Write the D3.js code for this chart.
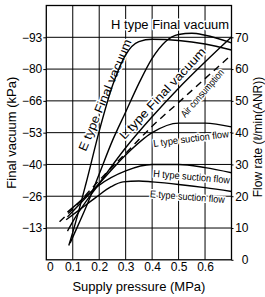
<!DOCTYPE html>
<html lang="en">
<head>
  <meta charset="UTF-8" />
  <title>Final vacuum / flow rate vs supply pressure</title>
  <style>
    body {
      margin: 0;
      background: #fff;
    }

    svg {
      display: block;
      font-family: "Liberation Sans", Arial, sans-serif;
    }

    .grid line {
      stroke: #000;
      stroke-width: 1;
    }

    .curve {
      fill: none;
      stroke: #000;
      stroke-width: 1.4px;
    }

    .tick text {
      font-size: 12px;
    }

    .note {
      paint-order: stroke;
      stroke: #fff;
      stroke-width: 3px;
      stroke-linejoin: round;
    }
  </style>
</head>
<body>
  <svg width="265" height="297"></svg>

  <script src="https://cdn.jsdelivr.net/npm/d3@7"></script>
  <script>
    // axis ticks
    const xTicks = [0, 0.1, 0.2, 0.3, 0.4, 0.5, 0.6];
    const xTickLabels = ["0", "0.1", "0.2", "0.3", "0.4", "0.5", "0.6"];
    const vacTicks = [13.33, 26.67, 40, 53.33, 66.67, 80, 93.33];
    const vacTickLabels = ["−13", "−26", "−40", "−53", "−66", "−80", "−93"];
    const flowTicks = [0, 10, 20, 30, 40, 50, 60, 70];

    // final vacuum (kPa, left axis) vs supply pressure (MPa)
    const eFinal = [[0.085, 6], [0.1, 11.5], [0.15, 32], [0.2, 54], [0.25, 73], [0.3, 86],
      [0.35, 91.5], [0.4, 92.5], [0.5, 92], [0.6, 90.5], [0.7, 88]];
    const hFinal = [[0.09, 7], [0.1, 9.5], [0.15, 22], [0.2, 36], [0.25, 50], [0.3, 62],
      [0.35, 74], [0.4, 84.5], [0.45, 91.5], [0.5, 94.5], [0.55, 95], [0.6, 94.2], [0.7, 91]];
    const lFinal = [[0.08, 12], [0.1, 16], [0.2, 32], [0.3, 47], [0.4, 60], [0.5, 72],
      [0.6, 83], [0.7, 93.5]];

    // flow rate (l/min(ANR), right axis)
    const airConsumption = [[0.05, 12], [0.1, 16], [0.2, 25], [0.3, 33.5], [0.4, 42],
      [0.5, 49.5], [0.6, 57], [0.7, 64.5]];
    const lSuction = [[0.08, 13.5], [0.2, 24], [0.3, 33], [0.4, 40], [0.5, 43], [0.6, 43], [0.7, 41.8]];
    const hSuction = [[0.08, 15], [0.15, 20], [0.2, 23.5], [0.3, 28], [0.4, 30], [0.5, 30],
      [0.6, 29], [0.7, 27.4]];
    const eSuction = [[0.075, 12.6], [0.125, 15.7], [0.19, 19.8], [0.245, 23], [0.29, 24.5],
      [0.35, 24.8], [0.4, 24.5], [0.5, 23.7], [0.6, 22.7], [0.7, 21.5]];

    const mLeft = 46.3, mRight = 231.5, mTop = 5.5, mBottom = 259.8;

    const svg = d3.select("svg");

    const x = d3.scaleLinear().domain([0, 0.7]).range([mLeft, mRight]);
    const yVac = d3.scaleLinear().domain([0, 106.67]).range([mBottom, mTop]);
    const yFlow = d3.scaleLinear().domain([0, 80]).range([mBottom, mTop]);

    // grid
    const grid = svg.append("g").attr("class", "grid");
    grid.selectAll(".vx")
      .data(xTicks.slice(1))
      .join("line")
      .attr("class", "vx")
      .attr("x1", d => x(d)).attr("x2", d => x(d))
      .attr("y1", mTop).attr("y2", mBottom);
    grid.selectAll(".hy")
      .data(vacTicks)
      .join("line")
      .attr("class", "hy")
      .attr("x1", mLeft).attr("x2", mRight)
      .attr("y1", d => yVac(d)).attr("y2", d => yVac(d));

    // annotations (drawn over grid with white halo)
    const notes = [
      { t: "H type Final vacuum", px: 0.245, v: 96.9, ax: "L", a: 0, fs: 12, len: 118 },
      { t: "E type Final vacuum", px: 0.149, v: 45.2, ax: "L", a: -67.4, fs: 12, len: 120 },
      { t: "L type Final vacuum", px: 0.296, v: 50.2, ax: "L", a: -47, fs: 12, len: 120 },
      { t: "Air consumption", px: 0.525, v: 44.6, ax: "R", a: -49, fs: 10, len: 60 },
      { t: "L type suction flow", px: 0.406, v: 35.5, ax: "R", a: -7.5, fs: 10, len: 76 },
      { t: "H type suction flow", px: 0.403, v: 26.1, ax: "R", a: 5, fs: 10, len: 77 },
      { t: "E type suction flow", px: 0.391, v: 19.7, ax: "R", a: 4.5, fs: 10, len: 75 }
    ];
    svg.append("g").selectAll("text")
      .data(notes)
      .join("text")
      .attr("class", "note")
      .attr("transform", d => `translate(${x(d.px)},${(d.ax === "L" ? yVac : yFlow)(d.v)}) rotate(${d.a})`)
      .attr("font-size", d => d.fs)
      .attr("textLength", d => d.len)
      .attr("lengthAdjust", "spacingAndGlyphs")
      .text(d => d.t);

    // curves
    const lineVac = d3.line().x(d => x(d[0])).y(d => yVac(d[1])).curve(d3.curveMonotoneX);
    const lineFlow = d3.line().x(d => x(d[0])).y(d => yFlow(d[1])).curve(d3.curveMonotoneX);

    const curves = svg.append("g");
    [eFinal, hFinal, lFinal].forEach(s => curves.append("path").attr("class", "curve").attr("d", lineVac(s)));
    [lSuction, hSuction, eSuction].forEach(s => curves.append("path").attr("class", "curve").attr("d", lineFlow(s)));
    curves.append("path")
      .attr("class", "curve")
      .attr("stroke-dasharray", "7,5")
      .attr("d", lineFlow(airConsumption));

    // frame
    svg.append("rect")
      .attr("x", mLeft).attr("y", mTop)
      .attr("width", mRight - mLeft).attr("height", mBottom - mTop)
      .attr("fill", "none").attr("stroke", "#000").attr("stroke-width", 1.3);

    // axes
    const ax = svg.append("g")
      .attr("transform", `translate(${mLeft},0)`)
      .call(d3.axisLeft(yVac).tickValues(vacTicks).tickFormat((d, i) => vacTickLabels[i]).tickSize(3).tickPadding(1));
    ax.select(".domain").remove();

    const axR = svg.append("g")
      .attr("transform", `translate(${mRight},0)`)
      .call(d3.axisRight(yFlow).tickValues(flowTicks).tickSize(2).tickPadding(3));
    axR.select(".domain").remove();
    axR.selectAll("text").attr("text-anchor", "end").attr("x", 17);

    const axB = svg.append("g")
      .attr("transform", `translate(0,${mBottom})`)
      .call(d3.axisBottom(x).tickValues(xTicks).tickFormat((d, i) => xTickLabels[i]).tickSize(0).tickPadding(3));
    axB.select(".domain").remove();
    axB.selectAll("text").filter(d => d === 0).attr("dx", 3.5);

    // axis titles
    svg.append("text")
      .attr("transform", `translate(${(mLeft + mRight) / 2},291)`)
      .attr("text-anchor", "middle")
      .attr("font-size", 13)
      .text("Supply pressure (MPa)");

    svg.append("text")
      .attr("transform", `translate(15.5,${(mTop + mBottom) / 2}) rotate(-90)`)
      .attr("text-anchor", "middle")
      .attr("font-size", 13)
      .text("Final vacuum (kPa)");

    svg.append("text")
      .attr("transform", `translate(262,137) rotate(-90)`)
      .attr("text-anchor", "middle")
      .attr("font-size", 12)
      .text("Flow rate (ℓ/min(ANR))");
  </script>
</body>
</html>
